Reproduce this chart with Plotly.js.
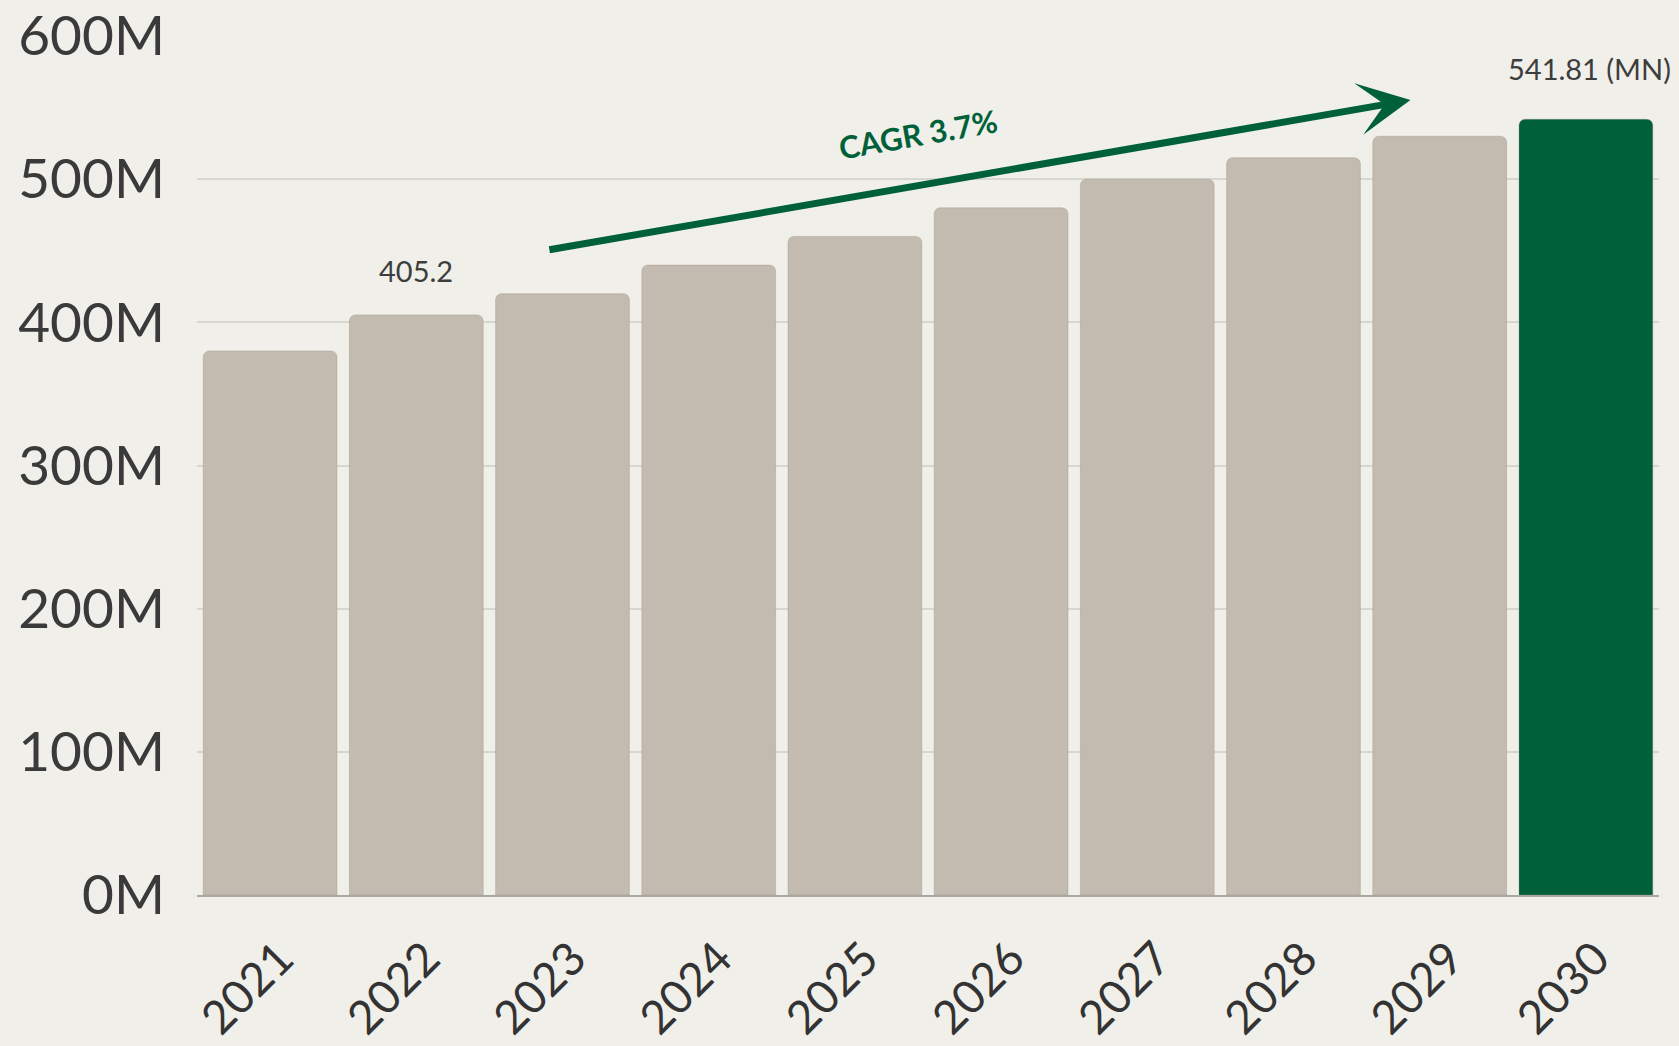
<!DOCTYPE html>
<html>
<head>
<meta charset="utf-8">
<script src="https://cdn.plot.ly/plotly-3.0.1.min.js"></script>
<style>
  html, body { margin: 0; padding: 0; background: #f0efe9; }
  #chart { width: 1679px; height: 1046px; }
</style>
</head>
<body>
<div id="chart"></div>
<script>
// ---- data ----
const years = ['2021', '2022', '2023', '2024', '2025', '2026', '2027', '2028', '2029', '2030'];
const marketSize = [380, 405.2, 420, 440, 460, 480, 500, 515, 530, 541.81];
const yTickValues = [0, 100, 200, 300, 400, 500, 600];
const yTickLabels = ['0M', '100M', '200M', '300M', '400M', '500M', '600M'];
const highlightYear = '2030';
const labelledYear = '2022';
const cagrText = 'CAGR 3.7%';
const unitSuffix = ' (MN)';

// ---- styling ----
const GREY = '#c3bbb0';
const GREEN = '#006039';
const BG = '#f0efe9';

const xPos = years.map((_, i) => i);
const barColors = years.map(y => (y === highlightYear ? GREEN : GREY));
const hiIdx = years.indexOf(highlightYear);
const lbIdx = years.indexOf(labelledYear);

const trace = {
  type: 'bar',
  x: xPos,
  y: marketSize,
  marker: {
    color: barColors,
    cornerradius: 6,
    line: { color: 'rgba(150,140,130,0.35)', width: 1 }
  },
  hoverinfo: 'none'
};

const layout = {
  width: 1679,
  height: 1046,
  paper_bgcolor: BG,
  plot_bgcolor: BG,
  margin: { l: 197, r: 20, t: 36, b: 151 },
  bargap: 0.085,
  showlegend: false,
  xaxis: {
    range: [-0.5, xPos.length - 0.5],
    tickmode: 'array',
    tickvals: xPos,
    ticktext: years,
    tickangle: -45,
    tickfont: { family: 'Lato, sans-serif', size: 46, color: '#333333' },
    ticks: 'outside',
    ticklen: 16,
    tickcolor: 'rgba(0,0,0,0)',
    ticklabelshift: 10,
    showgrid: false,
    showline: true,
    linecolor: '#a9a7a1',
    linewidth: 2,
    zeroline: false,
    fixedrange: true
  },
  yaxis: {
    range: [0, 600],
    tickmode: 'array',
    tickvals: yTickValues,
    ticktext: yTickLabels,
    tickfont: { family: 'Lato, sans-serif', size: 55, color: '#3a3a3a' },
    ticks: 'outside',
    ticklen: 20,
    tickcolor: 'rgba(0,0,0,0)',
    showgrid: true,
    gridcolor: '#d8d6d0',
    gridwidth: 2,
    zeroline: false,
    showline: false,
    fixedrange: true
  },
  annotations: [
    {
      xref: 'x', yref: 'y',
      x: xPos[lbIdx], y: marketSize[lbIdx],
      text: String(marketSize[lbIdx]),
      showarrow: false,
      yanchor: 'middle',
      yshift: 44,
      font: { family: 'Lato, sans-serif', size: 29, color: '#3d3d3d' }
    },
    {
      xref: 'x', yref: 'y',
      x: xPos[hiIdx], y: marketSize[hiIdx],
      text: String(marketSize[hiIdx]) + unitSuffix,
      showarrow: false,
      yanchor: 'middle',
      yshift: 51,
      xshift: 4,
      font: { family: 'Lato, sans-serif', size: 29, color: '#3d3d3d' }
    },
    {
      xref: 'x', yref: 'y',
      x: 7.80, y: 555.3,
      axref: 'x', ayref: 'y',
      ax: 1.90, ay: 450.5,
      text: '',
      showarrow: true,
      arrowhead: 3,
      arrowsize: 1.25,
      arrowwidth: 7,
      arrowcolor: GREEN
    },
    {
      xref: 'x', yref: 'y',
      x: 4.43, y: 531.5,
      text: '<b>' + cagrText + '</b>',
      showarrow: false,
      textangle: -10,
      font: { family: 'Lato, sans-serif', size: 31, color: GREEN, weight: 900 }
    }
  ]
};

Plotly.newPlot('chart', [trace], layout, { displayModeBar: false, staticPlot: true });
</script>
</body>
</html>
